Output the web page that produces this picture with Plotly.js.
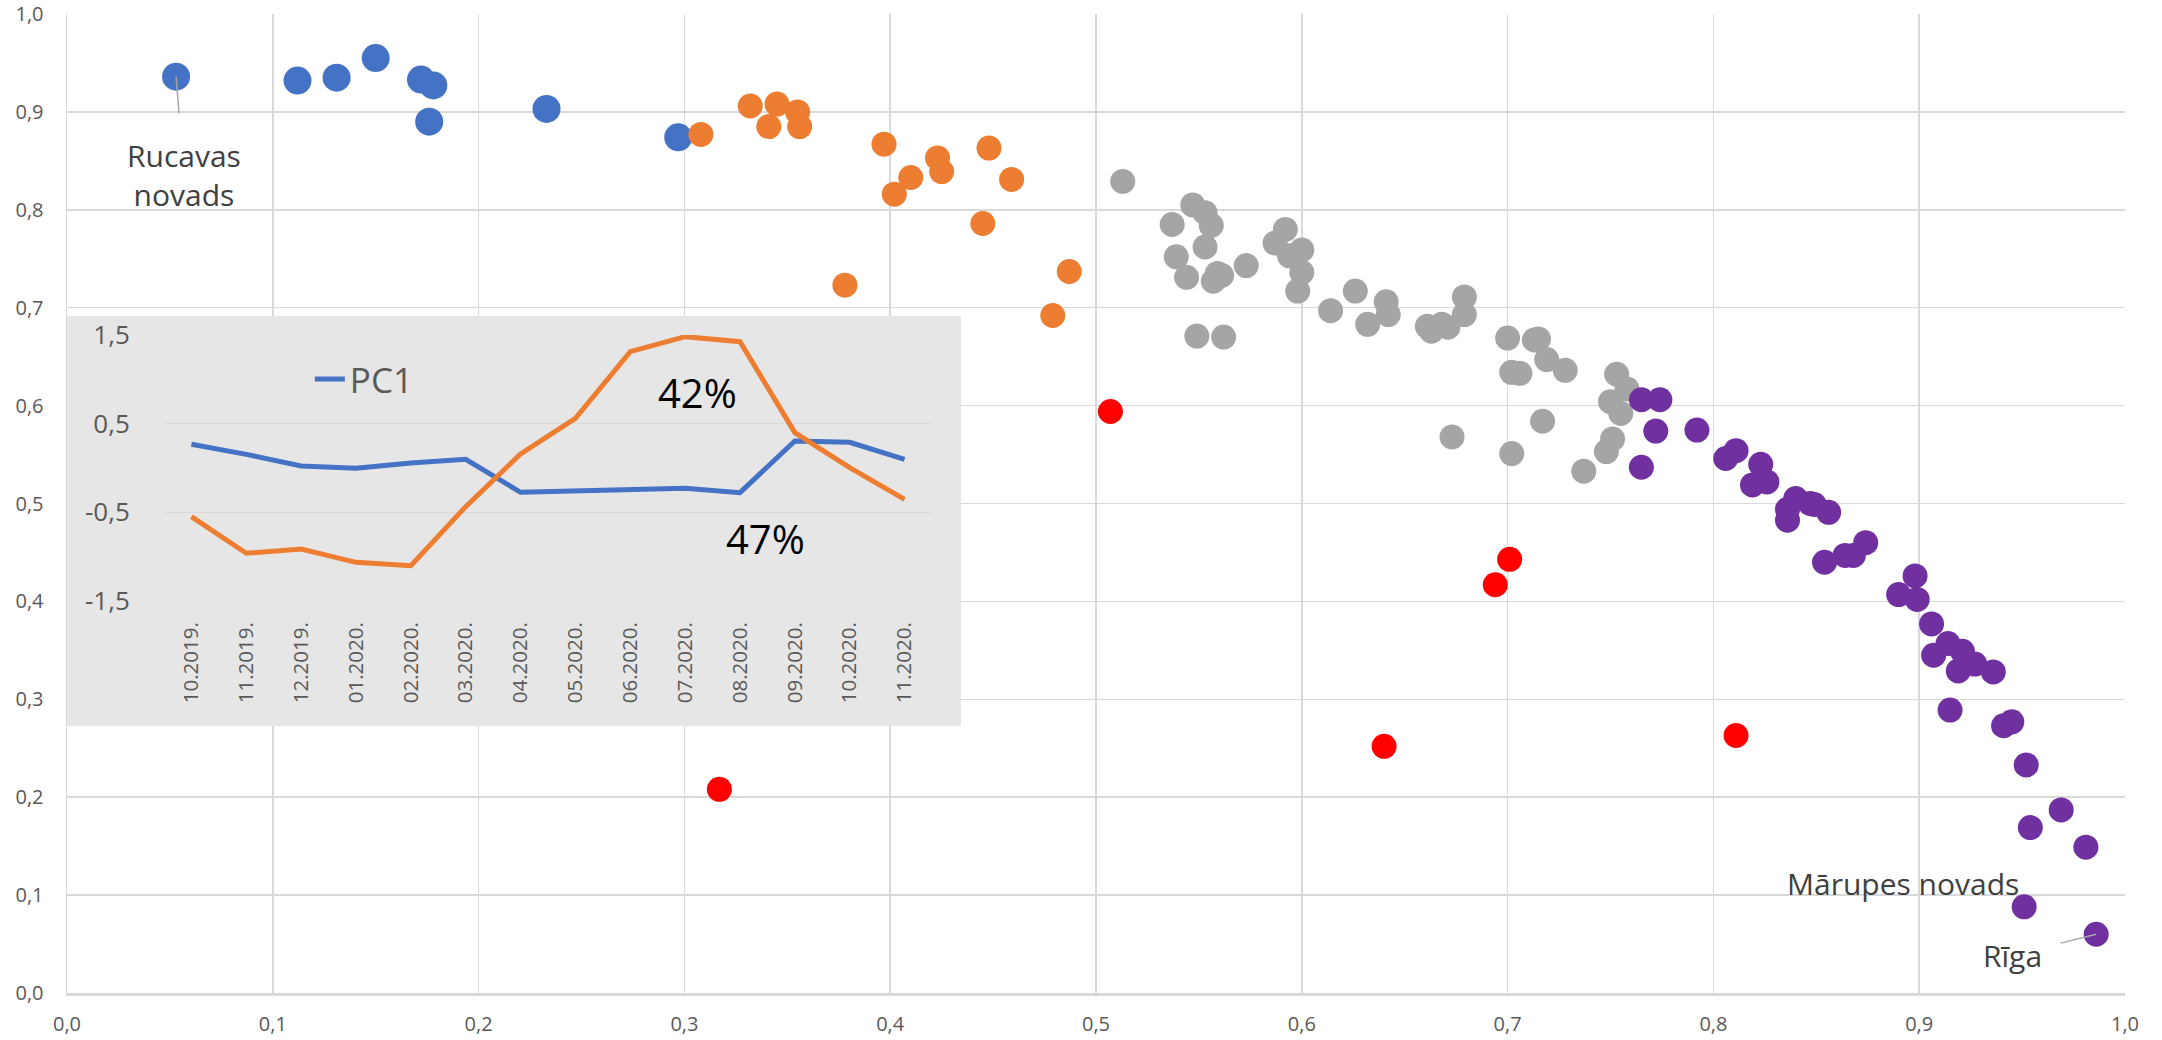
<!DOCTYPE html>
<html>
<head>
<meta charset="utf-8">
<script src="https://cdn.plot.ly/plotly-3.0.1.min.js"></script>
<style>html,body{margin:0;padding:0;background:#fff;}#chart{width:2162px;height:1040px;}</style>
</head>
<body>
<div id="chart"></div>
<script>
// ---- main scatter data (municipalities) ----
const blueX = [0.053, 0.112, 0.131, 0.150, 0.172, 0.178, 0.176, 0.233, 0.297];
const blueY = [0.936, 0.932, 0.935, 0.955, 0.933, 0.927, 0.890, 0.903, 0.874];

const orangeX = [0.308, 0.332, 0.345, 0.355, 0.341, 0.356, 0.397, 0.410, 0.402, 0.423, 0.425, 0.448, 0.459, 0.445, 0.378, 0.487, 0.479];
const orangeY = [0.877, 0.906, 0.908, 0.900, 0.885, 0.885, 0.867, 0.833, 0.816, 0.853, 0.839, 0.863, 0.831, 0.786, 0.723, 0.737, 0.692];

const grayX = [0.513, 0.547, 0.553, 0.556, 0.537, 0.553, 0.539, 0.544, 0.559, 0.557, 0.561, 0.573, 0.549, 0.562,
               0.592, 0.587, 0.600, 0.594, 0.600, 0.598, 0.614, 0.626, 0.632, 0.641, 0.642, 0.661, 0.663, 0.668,
               0.671, 0.679, 0.679, 0.673, 0.700, 0.713, 0.715, 0.702, 0.706, 0.719, 0.728, 0.717, 0.702, 0.737,
               0.748, 0.751, 0.753, 0.750, 0.755, 0.758];
const grayY = [0.829, 0.805, 0.797, 0.784, 0.785, 0.762, 0.752, 0.731, 0.735, 0.727, 0.733, 0.743, 0.671, 0.670,
               0.780, 0.766, 0.759, 0.753, 0.736, 0.717, 0.697, 0.717, 0.683, 0.706, 0.693, 0.681, 0.676, 0.683,
               0.680, 0.711, 0.693, 0.568, 0.669, 0.667, 0.668, 0.634, 0.633, 0.647, 0.636, 0.584, 0.551, 0.533,
               0.553, 0.566, 0.632, 0.604, 0.592, 0.617];

const redX = [0.317, 0.507, 0.640, 0.694, 0.701, 0.811];
const redY = [0.208, 0.594, 0.252, 0.417, 0.443, 0.263];

const purpleX = [0.765, 0.774, 0.772, 0.792, 0.765, 0.806, 0.811, 0.823, 0.819, 0.826, 0.840, 0.836, 0.836, 0.847,
                 0.849, 0.856, 0.854, 0.864, 0.868, 0.874, 0.898, 0.890, 0.899, 0.906, 0.914, 0.907, 0.921, 0.919,
                 0.927, 0.936, 0.915, 0.941, 0.945, 0.952, 0.969, 0.954, 0.981, 0.951, 0.986];
const purpleY = [0.606, 0.606, 0.574, 0.575, 0.537, 0.546, 0.554, 0.540, 0.519, 0.522, 0.505, 0.494, 0.483, 0.500,
                 0.499, 0.491, 0.440, 0.447, 0.447, 0.460, 0.426, 0.407, 0.402, 0.377, 0.357, 0.345, 0.349, 0.329,
                 0.336, 0.328, 0.289, 0.273, 0.277, 0.233, 0.187, 0.169, 0.149, 0.088, 0.060];

// labelled points
const labelRucavas = "Rucavas<br>novads";   // blue index 0
const labelMarupes = "Mārupes novads";      // purple index 37
const labelRiga = "Rīga";                   // purple index 38

// ---- inset line chart ----
const months = ["10.2019.", "11.2019.", "12.2019.", "01.2020.", "02.2020.", "03.2020.", "04.2020.",
                "05.2020.", "06.2020.", "07.2020.", "08.2020.", "09.2020.", "10.2020.", "11.2020."];
const pc1 = [0.267, 0.154, 0.023, -0.004, 0.056, 0.098, -0.274, -0.259, -0.248, -0.229, -0.278, 0.305, 0.290, 0.098];
const pc2 = [-0.549, -0.962, -0.913, -1.064, -1.102, -0.436, 0.158, 0.560, 1.312, 1.481, 1.425, 0.399, 0.004, -0.353];
const insetTickVals = [-1.5, -0.5, 0.5, 1.5];
const insetTickText = ["-1,5", "-0,5", "0,5", "1,5"];
const share1 = "42%";
const share2 = "47%";

const FONT = "Open Sans, sans-serif";
const TICK = "#595959";
const GRID = "#D9D9D9";

const traces = [
  {type: "scatter", mode: "markers", x: blueX, y: blueY, marker: {size: 28, color: "#4472C4"}, showlegend: false, hoverinfo: "skip"},
  {type: "scatter", mode: "markers", x: orangeX, y: orangeY, marker: {size: 25, color: "#ED7D31"}, showlegend: false, hoverinfo: "skip"},
  {type: "scatter", mode: "markers", x: grayX, y: grayY, marker: {size: 25, color: "#A5A5A5"}, showlegend: false, hoverinfo: "skip"},
  {type: "scatter", mode: "markers", x: redX, y: redY, marker: {size: 25, color: "#FF0000"}, showlegend: false, hoverinfo: "skip"},
  {type: "scatter", mode: "markers", x: purpleX, y: purpleY, marker: {size: 25, color: "#7030A0"}, showlegend: false, hoverinfo: "skip"},
  // empty trace so the inset background subplot exists
  {type: "scatter", mode: "markers", x: [], y: [], xaxis: "x2", yaxis: "y2", showlegend: false, hoverinfo: "skip"},
  {type: "scatter", mode: "lines", name: "PC1", x: months, y: pc1, xaxis: "x3", yaxis: "y3",
   line: {color: "#4472C4", width: 5}, hoverinfo: "skip"},
  {type: "scatter", mode: "lines", name: "PC2", x: months, y: pc2, xaxis: "x3", yaxis: "y3",
   line: {color: "#ED7D31", width: 5}, showlegend: false, hoverinfo: "skip"}
];

const layout = {
  width: 2162, height: 1040,
  margin: {l: 67, r: 37, t: 14, b: 47, pad: 0},
  paper_bgcolor: "#FFFFFF",
  plot_bgcolor: "rgba(0,0,0,0)",
  separators: ", ",
  font: {family: FONT, color: TICK},
  showlegend: true,
  legend: {x: 0.118, y: 0.627, xanchor: "left", yanchor: "middle", bgcolor: "rgba(0,0,0,0)",
           font: {family: FONT, size: 35, color: TICK}},
  xaxis: {domain: [0, 1], range: [0, 1], tick0: 0, dtick: 0.1, tickformat: ".1f", anchor: "y",
          showgrid: true, gridcolor: GRID, gridwidth: 1.5, zeroline: false,
          showline: true, linecolor: GRID, linewidth: 2.5,
          ticks: "outside", ticklen: 11, tickcolor: "rgba(0,0,0,0)",
          tickfont: {family: FONT, size: 20, color: TICK}},
  yaxis: {domain: [0, 1], range: [0, 1], tick0: 0, dtick: 0.1, tickformat: ".1f", anchor: "x",
          showgrid: true, gridcolor: GRID, gridwidth: 1.5, zeroline: false,
          showline: true, linecolor: GRID, linewidth: 1.5,
          ticks: "outside", ticklen: 18, tickcolor: "rgba(0,0,0,0)",
          tickfont: {family: FONT, size: 20, color: TICK}},
  xaxis2: {domain: [0, 0.4344], range: [0, 1], anchor: "y2", visible: false, fixedrange: true},
  yaxis2: {domain: [0.2727, 0.6915], range: [0, 1], anchor: "x2", visible: false, fixedrange: true},
  xaxis3: {domain: [0.04713, 0.42031], anchor: "y3", type: "category", range: [-0.5, 13.5],
           showgrid: false, zeroline: false, showline: false, tickangle: -90,
           ticks: "outside", ticklen: 12, tickcolor: "rgba(0,0,0,0)",
           tickfont: {family: FONT, size: 20.5, color: TICK}},
  yaxis3: {domain: [0.40041, 0.67212], anchor: "x3", range: [-1.5, 1.5],
           tickvals: insetTickVals, ticktext: insetTickText,
           showgrid: true, gridcolor: GRID, gridwidth: 1.5, zeroline: false, showline: false,
           ticks: "outside", ticklen: 28, tickcolor: "rgba(0,0,0,0)",
           tickfont: {family: FONT, size: 26, color: TICK}},
  shapes: [
    {type: "rect", xref: "x2", yref: "y2", x0: 0, x1: 1, y0: 0, y1: 1, layer: "below",
     fillcolor: "#E7E6E6", line: {width: 0}}
  ],
  annotations: [
    {x: blueX[0], y: blueY[0], xref: "x", yref: "y", text: labelRucavas, showarrow: true,
     arrowhead: 0, arrowwidth: 1.5, arrowcolor: "#A6A6A6", ax: 8, ay: 98, startstandoff: 20, standoff: 0,
     font: {family: FONT, size: 30, color: "#404040"}, align: "center"},
    {x: purpleX[37], y: purpleY[37], xref: "x", yref: "y", text: labelMarupes, showarrow: false,
     xshift: -121, yshift: 23, font: {family: FONT, size: 30, color: "#404040"}},
    {x: purpleX[38], y: purpleY[38], xref: "x", yref: "y", text: labelRiga, showarrow: true,
     arrowhead: 0, arrowwidth: 1.5, arrowcolor: "#A6A6A6", ax: -84, ay: 21, startstandoff: 18, standoff: 0,
     font: {family: FONT, size: 30, color: "#404040"}},
    {x: 9.23, y: 0.848, xref: "x3", yref: "y3", text: share1, showarrow: false,
     font: {family: FONT, size: 40, color: "#000000"}},
    {x: 10.456, y: -0.793, xref: "x3", yref: "y3", text: share2, showarrow: false,
     font: {family: FONT, size: 40, color: "#000000"}}
  ]
};

Plotly.newPlot("chart", traces, layout, {displayModeBar: false, staticPlot: true});
</script>
</body>
</html>
